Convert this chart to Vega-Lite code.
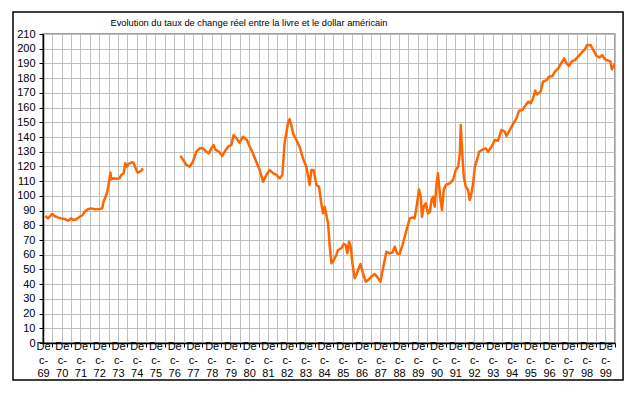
{
  "$schema": "https://vega.github.io/schema/vega-lite/v6.json",
  "autosize": {"type": "none"},
  "width": 572,
  "height": 309,
  "padding": {"left": 43, "top": 34, "right": 26, "bottom": 51},
  "background": "white",
  "config": {
    "view": {"stroke": "#808080", "strokeWidth": 1.5},
    "axis": {
      "labelFont": "Liberation Sans",
      "labelColor": "black",
      "labelFontSize": 11,
      "tickSize": 4,
      "tickColor": "black",
      "domainColor": "black",
      "domainWidth": 1.5,
      "grid": true,
      "gridColor": "#c0c0c0",
      "gridWidth": 1,
      "gridOpacity": 1,
      "labelOverlap": false,
      "labelFlush": false,
      "labelBound": false
    },
    "axisX": {
      "tickCount": 61,
      "labelExpr": "datum.value % 1 == 0 ? ['De', 'c-', format(datum.value % 100, '02d')] : ''",
      "labelLineHeight": 13.5,
      "labelPadding": -6.5,
      "tickOpacity": {"condition": {"test": "datum.value % 1 == 0", "value": 0}, "value": 1}
    },
    "axisY": {
      "tickCount": 21,
      "labelPadding": 4
    }
  },
  "data": {
    "values": [
      {"t": 1969.13, "v": 86.3, "s": 1},
      {"t": 1969.26, "v": 84.7, "s": 1},
      {"t": 1969.38, "v": 86.3, "s": 1},
      {"t": 1969.49, "v": 87.7, "s": 1},
      {"t": 1969.61, "v": 86.3, "s": 1},
      {"t": 1969.79, "v": 85.4, "s": 1},
      {"t": 1969.97, "v": 84.7, "s": 1},
      {"t": 1970.15, "v": 84.3, "s": 1},
      {"t": 1970.32, "v": 83.1, "s": 1},
      {"t": 1970.51, "v": 84.7, "s": 1},
      {"t": 1970.59, "v": 83.6, "s": 1},
      {"t": 1970.77, "v": 84.1, "s": 1},
      {"t": 1970.95, "v": 85.8, "s": 1},
      {"t": 1971.12, "v": 87.0, "s": 1},
      {"t": 1971.22, "v": 89.2, "s": 1},
      {"t": 1971.39, "v": 90.9, "s": 1},
      {"t": 1971.57, "v": 91.5, "s": 1},
      {"t": 1971.75, "v": 90.9, "s": 1},
      {"t": 1972.02, "v": 91.1, "s": 1},
      {"t": 1972.16, "v": 91.5, "s": 1},
      {"t": 1972.23, "v": 96.0, "s": 1},
      {"t": 1972.34, "v": 99.4, "s": 1},
      {"t": 1972.43, "v": 102.8, "s": 1},
      {"t": 1972.51, "v": 108.5, "s": 1},
      {"t": 1972.55, "v": 111.9, "s": 1},
      {"t": 1972.6, "v": 115.7, "s": 1},
      {"t": 1972.64, "v": 111.2, "s": 1},
      {"t": 1972.73, "v": 111.9, "s": 1},
      {"t": 1972.91, "v": 111.7, "s": 1},
      {"t": 1973.08, "v": 111.9, "s": 1},
      {"t": 1973.18, "v": 114.2, "s": 1},
      {"t": 1973.3, "v": 115.3, "s": 1},
      {"t": 1973.39, "v": 122.1, "s": 1},
      {"t": 1973.47, "v": 119.8, "s": 1},
      {"t": 1973.56, "v": 121.7, "s": 1},
      {"t": 1973.74, "v": 122.8, "s": 1},
      {"t": 1973.83, "v": 122.5, "s": 1},
      {"t": 1973.98, "v": 117.6, "s": 1},
      {"t": 1974.06, "v": 115.7, "s": 1},
      {"t": 1974.24, "v": 117.1, "s": 1},
      {"t": 1974.33, "v": 118.7, "s": 1},
      {"t": 1976.33, "v": 127.3, "s": 2},
      {"t": 1976.46, "v": 124.8, "s": 2},
      {"t": 1976.65, "v": 121.0, "s": 2},
      {"t": 1976.82, "v": 119.8, "s": 2},
      {"t": 1977.0, "v": 123.2, "s": 2},
      {"t": 1977.18, "v": 130.0, "s": 2},
      {"t": 1977.36, "v": 132.3, "s": 2},
      {"t": 1977.53, "v": 132.3, "s": 2},
      {"t": 1977.71, "v": 130.0, "s": 2},
      {"t": 1977.85, "v": 128.9, "s": 2},
      {"t": 1977.98, "v": 132.3, "s": 2},
      {"t": 1978.1, "v": 134.6, "s": 2},
      {"t": 1978.21, "v": 131.2, "s": 2},
      {"t": 1978.39, "v": 130.0, "s": 2},
      {"t": 1978.57, "v": 127.1, "s": 2},
      {"t": 1978.69, "v": 130.0, "s": 2},
      {"t": 1978.87, "v": 133.4, "s": 2},
      {"t": 1979.05, "v": 134.6, "s": 2},
      {"t": 1979.17, "v": 141.4, "s": 2},
      {"t": 1979.32, "v": 139.1, "s": 2},
      {"t": 1979.49, "v": 136.1, "s": 2},
      {"t": 1979.67, "v": 140.2, "s": 2},
      {"t": 1979.88, "v": 138.0, "s": 2},
      {"t": 1980.03, "v": 133.4, "s": 2},
      {"t": 1980.2, "v": 128.9, "s": 2},
      {"t": 1980.38, "v": 123.2, "s": 2},
      {"t": 1980.56, "v": 117.6, "s": 2},
      {"t": 1980.74, "v": 109.6, "s": 2},
      {"t": 1980.92, "v": 114.2, "s": 2},
      {"t": 1981.09, "v": 117.6, "s": 2},
      {"t": 1981.27, "v": 115.4, "s": 2},
      {"t": 1981.45, "v": 114.2, "s": 2},
      {"t": 1981.63, "v": 111.9, "s": 2},
      {"t": 1981.77, "v": 114.2, "s": 2},
      {"t": 1981.89, "v": 135.7, "s": 2},
      {"t": 1981.98, "v": 142.5, "s": 2},
      {"t": 1982.07, "v": 149.3, "s": 2},
      {"t": 1982.16, "v": 152.2, "s": 2},
      {"t": 1982.25, "v": 148.2, "s": 2},
      {"t": 1982.34, "v": 142.5, "s": 2},
      {"t": 1982.52, "v": 138.0, "s": 2},
      {"t": 1982.69, "v": 133.4, "s": 2},
      {"t": 1982.87, "v": 125.5, "s": 2},
      {"t": 1983.05, "v": 119.8, "s": 2},
      {"t": 1983.23, "v": 107.4, "s": 2},
      {"t": 1983.32, "v": 117.6, "s": 2},
      {"t": 1983.44, "v": 117.6, "s": 2},
      {"t": 1983.59, "v": 107.4, "s": 2},
      {"t": 1983.73, "v": 106.2, "s": 2},
      {"t": 1983.85, "v": 94.9, "s": 2},
      {"t": 1983.94, "v": 88.1, "s": 2},
      {"t": 1984.03, "v": 92.6, "s": 2},
      {"t": 1984.12, "v": 87.0, "s": 2},
      {"t": 1984.21, "v": 81.3, "s": 2},
      {"t": 1984.3, "v": 65.4, "s": 2},
      {"t": 1984.39, "v": 54.2, "s": 2},
      {"t": 1984.47, "v": 55.3, "s": 2},
      {"t": 1984.65, "v": 59.8, "s": 2},
      {"t": 1984.74, "v": 63.2, "s": 2},
      {"t": 1984.92, "v": 64.4, "s": 2},
      {"t": 1985.04, "v": 67.3, "s": 2},
      {"t": 1985.15, "v": 66.6, "s": 2},
      {"t": 1985.24, "v": 61.0, "s": 2},
      {"t": 1985.33, "v": 68.8, "s": 2},
      {"t": 1985.42, "v": 65.4, "s": 2},
      {"t": 1985.51, "v": 54.2, "s": 2},
      {"t": 1985.63, "v": 44.0, "s": 2},
      {"t": 1985.72, "v": 46.2, "s": 2},
      {"t": 1985.81, "v": 49.6, "s": 2},
      {"t": 1985.94, "v": 53.7, "s": 2},
      {"t": 1986.07, "v": 47.4, "s": 2},
      {"t": 1986.22, "v": 41.7, "s": 2},
      {"t": 1986.34, "v": 42.8, "s": 2},
      {"t": 1986.52, "v": 45.1, "s": 2},
      {"t": 1986.7, "v": 46.9, "s": 2},
      {"t": 1986.82, "v": 45.1, "s": 2},
      {"t": 1987.0, "v": 41.7, "s": 2},
      {"t": 1987.09, "v": 47.4, "s": 2},
      {"t": 1987.18, "v": 53.0, "s": 2},
      {"t": 1987.32, "v": 62.0, "s": 2},
      {"t": 1987.5, "v": 61.0, "s": 2},
      {"t": 1987.64, "v": 61.4, "s": 2},
      {"t": 1987.77, "v": 65.4, "s": 2},
      {"t": 1987.89, "v": 61.0, "s": 2},
      {"t": 1988.03, "v": 60.5, "s": 2},
      {"t": 1988.18, "v": 66.6, "s": 2},
      {"t": 1988.3, "v": 72.2, "s": 2},
      {"t": 1988.42, "v": 77.9, "s": 2},
      {"t": 1988.57, "v": 84.7, "s": 2},
      {"t": 1988.74, "v": 85.4, "s": 2},
      {"t": 1988.83, "v": 84.7, "s": 2},
      {"t": 1988.96, "v": 94.9, "s": 2},
      {"t": 1989.06, "v": 104.4, "s": 2},
      {"t": 1989.16, "v": 99.4, "s": 2},
      {"t": 1989.22, "v": 85.8, "s": 2},
      {"t": 1989.31, "v": 92.6, "s": 2},
      {"t": 1989.42, "v": 94.9, "s": 2},
      {"t": 1989.54, "v": 88.1, "s": 2},
      {"t": 1989.64, "v": 89.2, "s": 2},
      {"t": 1989.73, "v": 97.2, "s": 2},
      {"t": 1989.81, "v": 99.4, "s": 2},
      {"t": 1989.9, "v": 92.6, "s": 2},
      {"t": 1990.0, "v": 108.5, "s": 2},
      {"t": 1990.07, "v": 115.3, "s": 2},
      {"t": 1990.14, "v": 106.2, "s": 2},
      {"t": 1990.21, "v": 97.2, "s": 2},
      {"t": 1990.29, "v": 90.4, "s": 2},
      {"t": 1990.38, "v": 104.0, "s": 2},
      {"t": 1990.49, "v": 107.4, "s": 2},
      {"t": 1990.7, "v": 108.5, "s": 2},
      {"t": 1990.88, "v": 110.8, "s": 2},
      {"t": 1991.02, "v": 117.6, "s": 2},
      {"t": 1991.15, "v": 119.8, "s": 2},
      {"t": 1991.24, "v": 128.9, "s": 2},
      {"t": 1991.29, "v": 148.2, "s": 2},
      {"t": 1991.34, "v": 135.7, "s": 2},
      {"t": 1991.38, "v": 126.6, "s": 2},
      {"t": 1991.45, "v": 113.1, "s": 2},
      {"t": 1991.56, "v": 106.2, "s": 2},
      {"t": 1991.68, "v": 104.0, "s": 2},
      {"t": 1991.77, "v": 97.2, "s": 2},
      {"t": 1991.86, "v": 101.7, "s": 2},
      {"t": 1991.95, "v": 108.5, "s": 2},
      {"t": 1992.04, "v": 119.8, "s": 2},
      {"t": 1992.16, "v": 124.4, "s": 2},
      {"t": 1992.27, "v": 130.0, "s": 2},
      {"t": 1992.48, "v": 131.6, "s": 2},
      {"t": 1992.63, "v": 132.3, "s": 2},
      {"t": 1992.75, "v": 130.0, "s": 2},
      {"t": 1992.93, "v": 133.4, "s": 2},
      {"t": 1993.11, "v": 138.0, "s": 2},
      {"t": 1993.28, "v": 137.5, "s": 2},
      {"t": 1993.46, "v": 144.8, "s": 2},
      {"t": 1993.64, "v": 143.6, "s": 2},
      {"t": 1993.73, "v": 140.7, "s": 2},
      {"t": 1993.91, "v": 144.8, "s": 2},
      {"t": 1994.08, "v": 148.8, "s": 2},
      {"t": 1994.26, "v": 152.7, "s": 2},
      {"t": 1994.4, "v": 157.9, "s": 2},
      {"t": 1994.58, "v": 158.4, "s": 2},
      {"t": 1994.76, "v": 161.8, "s": 2},
      {"t": 1994.91, "v": 164.0, "s": 2},
      {"t": 1995.03, "v": 162.9, "s": 2},
      {"t": 1995.15, "v": 166.3, "s": 2},
      {"t": 1995.26, "v": 171.5, "s": 2},
      {"t": 1995.36, "v": 169.0, "s": 2},
      {"t": 1995.55, "v": 170.8, "s": 2},
      {"t": 1995.68, "v": 177.6, "s": 2},
      {"t": 1995.87, "v": 178.7, "s": 2},
      {"t": 1996.0, "v": 181.0, "s": 2},
      {"t": 1996.19, "v": 181.5, "s": 2},
      {"t": 1996.31, "v": 184.4, "s": 2},
      {"t": 1996.49, "v": 186.7, "s": 2},
      {"t": 1996.67, "v": 190.5, "s": 2},
      {"t": 1996.81, "v": 193.5, "s": 2},
      {"t": 1996.93, "v": 190.1, "s": 2},
      {"t": 1997.07, "v": 188.3, "s": 2},
      {"t": 1997.2, "v": 191.2, "s": 2},
      {"t": 1997.38, "v": 192.3, "s": 2},
      {"t": 1997.55, "v": 194.6, "s": 2},
      {"t": 1997.73, "v": 197.3, "s": 2},
      {"t": 1997.91, "v": 199.5, "s": 2},
      {"t": 1998.03, "v": 202.5, "s": 2},
      {"t": 1998.22, "v": 202.5, "s": 2},
      {"t": 1998.35, "v": 199.5, "s": 2},
      {"t": 1998.54, "v": 195.0, "s": 2},
      {"t": 1998.71, "v": 194.1, "s": 2},
      {"t": 1998.83, "v": 195.7, "s": 2},
      {"t": 1998.98, "v": 192.8, "s": 2},
      {"t": 1999.16, "v": 191.9, "s": 2},
      {"t": 1999.28, "v": 191.2, "s": 2},
      {"t": 1999.35, "v": 186.0, "s": 2},
      {"t": 1999.44, "v": 187.8, "s": 2},
      {"t": 1999.52, "v": 190.1, "s": 2}
    ]
  },
  "layer": [
    {
      "data": {"values": [{}]},
      "mark": {"type": "rect", "fill": null, "stroke": "black", "strokeWidth": 1.5, "clip": false},
      "encoding": {
        "x": {"datum": 1967.4, "type": "quantitative", "title": null, "scale": {"domain": [1969, 1999.52], "nice": false, "zero": false}},
        "x2": {"datum": 1999.95},
        "y": {"datum": 224.95, "type": "quantitative", "title": null, "scale": {"domain": [0, 210], "nice": false, "zero": false}},
        "y2": {"datum": -25.15}
      }
    },
    {
      "mark": {"type": "line", "color": "#FF6600", "strokeWidth": 2.5, "strokeJoin": "round", "clip": true},
      "encoding": {
        "x": {"field": "t", "type": "quantitative", "title": null, "scale": {"domain": [1969, 1999.52], "nice": false, "zero": false}},
        "y": {"field": "v", "type": "quantitative", "title": null, "scale": {"domain": [0, 210], "nice": false, "zero": false}},
        "detail": {"field": "s", "type": "nominal"}
      }
    },
    {
      "data": {"values": [{"label": "Evolution du taux de change réel entre la livre et le dollar américain"}]},
      "mark": {"type": "text", "font": "Liberation Sans", "fontSize": 9.3, "color": "black", "align": "center", "baseline": "alphabetic", "clip": false},
      "encoding": {
        "x": {"datum": 1979.99, "type": "quantitative", "title": null},
        "y": {"datum": 215.4, "type": "quantitative", "title": null},
        "text": {"field": "label", "type": "nominal"}
      }
    }
  ]
}
